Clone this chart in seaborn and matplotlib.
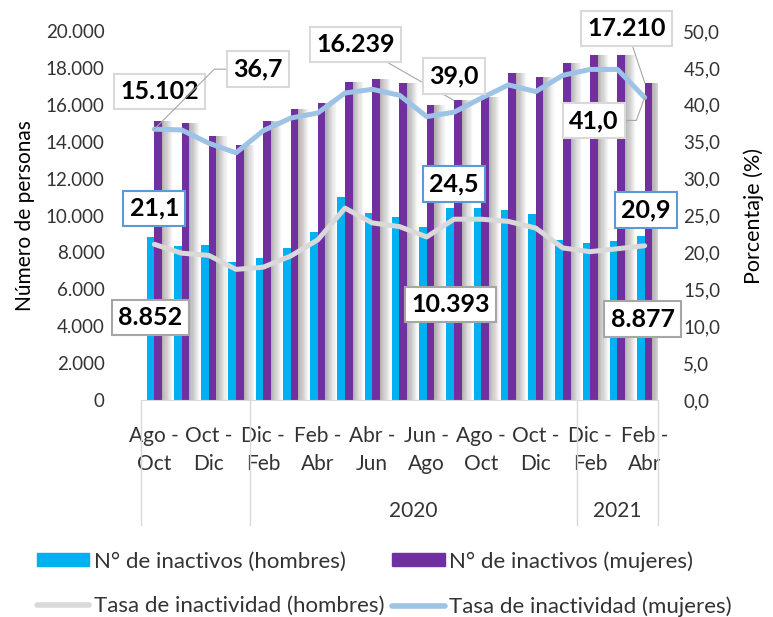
import numpy as np
import pandas as pd
import seaborn as sns
import matplotlib.pyplot as plt
import matplotlib.transforms as mtransforms
from matplotlib.patches import Patch
from matplotlib.lines import Line2D
from matplotlib.ticker import FuncFormatter

# Trimestres móviles (ago-oct 2019 a feb-abr 2021)
periodos = ["Ago - Oct", "Sep - Nov", "Oct - Dic", "Nov - Ene", "Dic - Feb",
            "Ene - Mar", "Feb - Abr", "Mar - May", "Abr - Jun", "May - Jul",
            "Jun - Ago", "Jul - Sep", "Ago - Oct", "Sep - Nov", "Oct - Dic",
            "Nov - Ene", "Dic - Feb", "Ene - Mar", "Feb - Abr"]
grupos = ["", "2020", "2021"]
grupos_n = [4, 12, 3]

# N° de inactivos
hombres = [8852, 8350, 8400, 7500, 7710, 8260, 9090, 10990, 10150, 9940,
           9380, 10393, 10420, 10280, 10080, 8670, 8490, 8620, 8877]
mujeres = [15102, 15000, 14310, 13820, 15140, 15770, 16110, 17220, 17410, 17160,
           15970, 16239, 16440, 17710, 17490, 18280, 18700, 18700, 17210]

# Tasa de inactividad (%)
tasa_h = [21.1, 19.9, 19.6, 17.7, 18.0, 19.5, 21.7, 26.0, 24.0, 23.5,
          22.1, 24.5, 24.5, 24.2, 23.3, 20.6, 20.1, 20.5, 20.9]
tasa_m = [36.7, 36.6, 34.8, 33.5, 36.5, 38.2, 38.9, 41.6, 42.1, 41.3,
          38.4, 39.0, 40.9, 42.7, 41.8, 44.0, 44.8, 44.8, 41.0]

# puntos con etiqueta
idx_etiquetas = [0, 11, 18]

AZUL = "#00B0F0"
MORADO = "#7030A0"
GRIS_L = "#D9D9D9"
CELESTE = "#9DC3E6"
TXT = "#333333"

sns.set_style("white")
plt.rcParams["font.family"] = ["Lato", "DejaVu Sans"]

n = len(periodos)
df = pd.DataFrame({
    "pos": list(range(n)) * 2,
    "valor": hombres + mujeres,
    "sexo": ["hombres"] * n + ["mujeres"] * n,
})

fig = plt.figure(figsize=(7.73, 6.17), dpi=100)
ax = fig.add_axes([0.182, 0.3517, 0.6696, 0.598])

# sombra degradada a la derecha de cada par de barras
n_tiras = 10
w_tira = 0.042
for k in range(n_tiras):
    g = 0.70 + 0.29 * k / (n_tiras - 1)
    ax.bar(np.arange(n) + 0.28 + w_tira * (k + 0.5), mujeres, width=w_tira,
           color=(g, g, g), lw=0, zorder=1)

sns.barplot(data=df, x="pos", y="valor", hue="sexo", palette=[AZUL, MORADO],
            width=0.56, gap=0, saturation=1, linewidth=0, legend=False, ax=ax,
            zorder=2)

ax.set_xlim(-0.5, n - 0.5)
ax.set_ylim(0, 20000)
ax.set_yticks(range(0, 20001, 2000))
ax.yaxis.set_major_formatter(FuncFormatter(lambda v, _: f"{int(v):,}".replace(",", ".")))
ax.set_xticks(range(0, n, 2))
ax.set_xticklabels([periodos[i].replace(" - ", " -\n") for i in range(0, n, 2)])
for t in ax.get_xticklabels():
    t.set_linespacing(1.5)
ax.tick_params(axis="x", length=0, pad=19, labelsize=15, labelcolor=TXT)
ax.tick_params(axis="y", length=0, pad=26, labelsize=13.5, labelcolor=TXT)
ax.set_xlabel("")
ax.set_ylabel("Número de personas", fontsize=15, color="black", va="center")
ax.yaxis.set_label_coords(-0.2235, 0.5)

ax2 = ax.twinx()
sns.lineplot(x=np.arange(n), y=tasa_h, ax=ax2, color=GRIS_L, lw=3.6, zorder=3)
sns.lineplot(x=np.arange(n), y=tasa_m, ax=ax2, color=CELESTE, lw=3.6, zorder=3)
ax.set_xlim(-0.5, n - 0.5)
ax2.set_ylim(0, 50)
ax2.set_yticks(np.arange(0, 50.1, 5))
ax2.yaxis.set_major_formatter(FuncFormatter(lambda v, _: f"{v:.1f}".replace(".", ",")))
ax2.tick_params(axis="y", length=0, pad=18, labelsize=13.5, labelcolor=TXT)
ax2.set_ylabel("Porcentaje (%)", fontsize=15.5, color="black", va="center", rotation=90)
ax2.yaxis.set_label_coords(1.185, 0.5)

for a in (ax, ax2):
    for s in a.spines.values():
        s.set_visible(False)
ax.spines["bottom"].set_visible(True)
ax.spines["bottom"].set_color(GRIS_L)

# separadores de años y etiquetas de grupo
blend = mtransforms.blended_transform_factory(ax.transData, ax.transAxes)
limites = np.concatenate([[0], np.cumsum(grupos_n)]) - 0.5
for b in limites:
    ax.plot([b, b], [0, -0.339], transform=blend, color=GRIS_L, lw=1, clip_on=False)
for g, a0, a1 in zip(grupos, limites[:-1], limites[1:]):
    ax.text((a0 + a1) / 2, -0.3, g, transform=blend, ha="center", va="center",
            fontsize=15, color=TXT)

# etiquetas de datos
fmt_n = lambda v: f"{v:,}".replace(",", ".")
fmt_p = lambda v: f"{v:.1f}".replace(".", ",")
lider = dict(arrowstyle="-", color="#A6A6A6", lw=0.8, shrinkA=0, shrinkB=0)

series = [
    # valores, formato, coords, borde, desplazamientos, conectores
    (mujeres, fmt_n, ax.transData, GRIS_L, [(5, 30), (-98, 56), (-18, 54)],
     [None, "arc3,rad=0", "arc3,rad=0"]),
    (tasa_m, fmt_p, ax2.transData, GRIS_L, [(104, 60), (0, 36), (-51, -23)],
     ["angle,angleA=0,angleB=45,rad=0", None, "angle,angleA=0,angleB=70,rad=0"]),
    (hombres, fmt_n, ax.transData, "#A6A6A6", [(-4, -81), (-3, -96), (-2, -83)],
     [None, None, None]),
    (tasa_h, fmt_p, ax2.transData, "#5B9BD5", [(0, 36), (0, 35), (1, 36)],
     [None, None, None]),
]
z = 6
for vals, fmt, coords, borde, offs, cons in series:
    for i, off, con in zip(idx_etiquetas, offs, cons):
        arrow = None
        if con is not None:
            arrow = dict(lider, connectionstyle=con)
        ann = ax2.annotate(fmt(vals[i]), xy=(i, vals[i]), xycoords=coords,
                           xytext=off, textcoords="offset pixels",
                           ha="center", va="center", fontsize=18, fontweight="bold",
                           color="black", arrowprops=arrow,
                           bbox=dict(boxstyle="square,pad=0.25", fc="white",
                                     ec=borde, lw=1.5))
        ann.set_zorder(z)
        z += 1

handles = [Patch(color=AZUL), Line2D([], [], color=GRIS_L, lw=4),
           Patch(color=MORADO), Line2D([], [], color=CELESTE, lw=4)]
labels = ["N° de inactivos (hombres)", "Tasa de inactividad (hombres)",
          "N° de inactivos (mujeres)", "Tasa de inactividad (mujeres)"]
fig.legend(handles, labels, loc="upper left", bbox_to_anchor=(37 / 773, 0.107),
           ncol=2, frameon=False, fontsize=16, handlelength=2.36, handleheight=0.5,
           handletextpad=0.2, columnspacing=0.35, labelspacing=1.1,
           borderpad=0, borderaxespad=0, labelcolor=TXT)

fig.savefig("out.png", dpi=100)
